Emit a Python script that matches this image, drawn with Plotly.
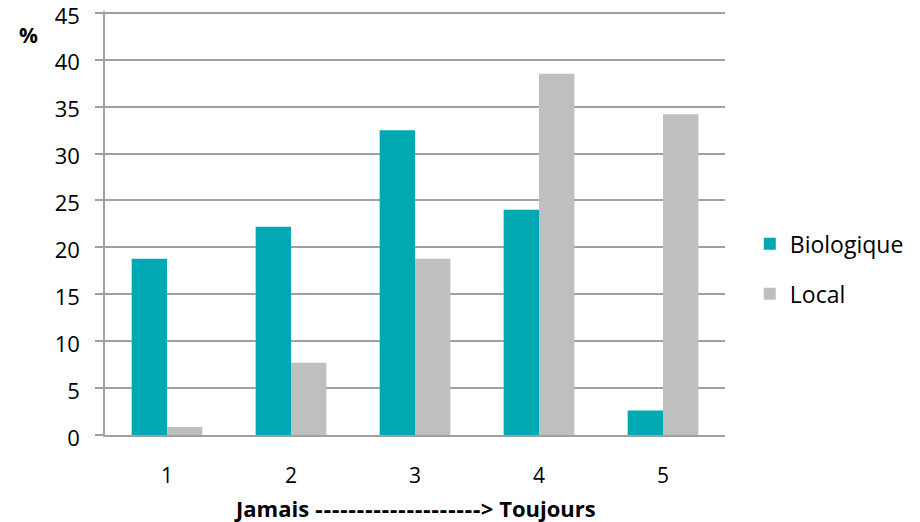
import plotly.graph_objects as go

categories = ["1", "2", "3", "4", "5"]
biologique = [18.8, 22.2, 32.5, 24.0, 2.6]
local = [0.85, 7.7, 18.8, 38.5, 34.2]
y_ticks = [0, 5, 10, 15, 20, 25, 30, 35, 40, 45]

font_family = "Open Sans, Noto Sans, sans-serif"

fig = go.Figure()
fig.add_trace(go.Bar(x=categories, y=biologique, name="Biologique", legendgroup="a",
                     marker=dict(color="#00A9B1", line=dict(width=0))))
fig.add_trace(go.Bar(x=categories, y=local, name="Local", legendgroup="b",
                     marker=dict(color="#BFBFBF", line=dict(width=0))))

fig.update_layout(
    width=920, height=522,
    margin=dict(l=97, r=203, t=3, b=95, autoexpand=False),
    paper_bgcolor="white", plot_bgcolor="white",
    barmode="group", bargap=0.43, bargroupgap=0,
    font=dict(family=font_family, size=21, color="#000000"),
    legend=dict(x=1.04, y=0.392, yanchor="middle", xanchor="left",
                font=dict(size=23), tracegroupgap=17, itemwidth=30),
    showlegend=True,
)
fig.update_yaxes(
    range=[0, 45.2], tickvals=y_ticks, showgrid=True, gridcolor="#A0A0A0", gridwidth=1.5,
    showline=True, linecolor="#A0A0A0", linewidth=1.5,
    ticks="outside", ticklen=8, tickcolor="#A0A0A0", tickwidth=1.5,
    tickfont=dict(size=22), zeroline=False, automargin=False, ticklabelstandoff=11,
    ticklabeloverflow="allow", ticklabelshift=3,
)
fig.update_xaxes(
    showline=True, linecolor="#A0A0A0", linewidth=1.5,
    ticks="", tickfont=dict(size=21), automargin=False, ticklabelstandoff=21,
    ticklabeloverflow="allow",
)
fig.add_annotation(
    text="<b>Jamais <span style='font-family:DejaVu Sans;font-size:20px'>--------------------</span>> Toujours</b>",
    xref="paper", yref="paper",
    x=0.5, y=-0.171, showarrow=False, font=dict(size=22),
    xanchor="center", yanchor="middle")
fig.add_annotation(text="<b>%</b>", xref="paper", yref="paper",
                   x=-0.124, y=0.943, showarrow=False, font=dict(size=21),
                   xanchor="center", yanchor="middle")

fig.write_html("out.html")
